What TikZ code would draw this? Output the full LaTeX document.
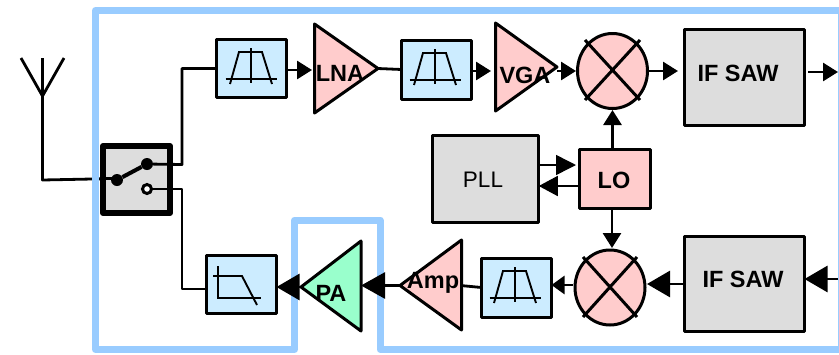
\documentclass[tikz,border=0pt]{standalone}
\usepackage{fontspec}
\setmainfont{Liberation Sans}
\usetikzlibrary{arrows.meta,calc}
\definecolor{edgeblue}{HTML}{99CCFF}
\definecolor{pinkfill}{HTML}{FFCCCC}
\definecolor{greenfill}{HTML}{99FFCC}
\definecolor{bluefill}{HTML}{CCECFF}
\definecolor{greyfill}{HTML}{DDDDDD}
\tikzset{
  x=1pt,y=-1pt,
  lab/.style={font=\fontsize{23.5}{23.5}\selectfont\bfseries,inner sep=0pt},
  box/.style={draw=black,line width=3pt,line join=round,inner sep=0pt,outer sep=0pt},
  filterbox/.style={box,fill=bluefill,minimum width=70pt,minimum height=59pt},
  graybox/.style={box,fill=greyfill},
  tri/.style={draw=black,line width=3pt,line join=round},
  mixer/.style={draw=black,line width=3pt},
  wire/.style={draw=black,line width=2.8pt,line join=round},
  thinwire/.style={draw=black,line width=1.5pt},
  small head/.style={wire,-{Triangle[length=15pt,width=18pt]}},
  big head/.style={wire,-{Triangle[length=23pt,width=26pt]}},
  mini/.style={line width=1.9pt,draw=black},
  pics/bandpass/.style={code={
    \draw[mini] (-25.5,10.5) -- (25.5,10.5);
    \draw[mini] (0,-20.5) -- (0,14.5);
    \draw[mini] (-21,15.5) -- (-12,-16.5) -- (11,-16.5) -- (21,15.5);
  }},
  pics/lowpass/.style={code={
    \draw[mini] (0,-23) -- (0,9);
    \draw[mini] (-5,-13) -- (24,-13) -- (39,16);
    \draw[mini] (-1,9) -- (43,9);
  }}
}
\begin{document}
\begin{tikzpicture}
\useasboundingbox (0,0) rectangle (839,354);
\fill[white] (0,0) rectangle (839,354);

% antenna and its feed, under the border
\coordinate (antTip) at (42.5,58);
\coordinate (antV) at (42.5,96);
\coordinate (antL) at (21,58);
\coordinate (antR) at (64,58);
\coordinate (antFoot) at (42.5,180);
\coordinate (swIn) at (117,178.5);
\draw[wire] (antL) -- (antV) -- (antR);
\draw[wire] (antTip) -- (antFoot) -- (swIn);

% border
\draw[edgeblue,line width=7pt,line join=round]
  (841,10.5) -- (95.5,10.5) -- (95.5,349.5) -- (294.5,349.5) -- (294.5,220)
  -- (380,220) -- (380,349.5) -- (841,349.5) -- cycle;

% switch
\node[draw=black,fill=greyfill,line width=6pt,line join=round,minimum width=67pt,minimum height=67pt,inner sep=0pt,outer sep=0pt] (sw) at (136.5,179.5) {};
\draw[wire] (100,178.5) -- (swIn);
\node[circle,fill=black,minimum size=12pt,inner sep=0pt] (c1) at (117,180) {};
\node[circle,fill=black,minimum size=12pt,inner sep=0pt] (c2) at (147,164) {};
\node[draw=black,fill=white,line width=3pt,circle,minimum size=9pt,inner sep=0pt] (c3) at (147,189) {};
\draw[black,line width=4pt] (c1) -- (c2);

% filters
\node[filterbox,minimum height=58pt] (f1) at (251.5,68.5) {};
\node[filterbox] (f2) at (436.5,69.5) {};
\node[filterbox] (f3) at (516.5,287.5) {};
\node[filterbox,minimum height=58pt] (f4) at (241.5,284.5) {};
\pic at (251,68.5) {bandpass};
\pic at (435,69.5) {bandpass};
\pic at (515,287.5) {bandpass};
\pic at (218,289) {lowpass};

% switch outputs
\coordinate (bendA) at (182,164.5);
\coordinate (bendB) at (182,189);
\draw[wire] (c2) -- (bendA) -- (bendA |- f1.west) -- (f1.west);
\draw[wire] (c3) -- (bendB) -- ($(bendB |- f4.west)+(0,4.5)$) -- ($(f4.west)+(0,4.5)$);

% amplifiers
\coordinate (lnaA) at (314.5,24); \coordinate (lnaB) at (314.5,113); \coordinate (lnaT) at (378,68.5);
\coordinate (vgaA) at (495.5,23); \coordinate (vgaB) at (495.5,111); \coordinate (vgaT) at (557,67);
\coordinate (ampA) at (461.5,240); \coordinate (ampB) at (461.5,330); \coordinate (ampT) at (400,285.5);
\coordinate (paA) at (361,241); \coordinate (paB) at (361,331); \coordinate (paT) at (301,287);
\filldraw[tri,fill=pinkfill] (lnaA) -- (lnaB) -- (lnaT) -- cycle;
\filldraw[tri,fill=pinkfill] (vgaA) -- (vgaB) -- (vgaT) -- cycle;
\filldraw[tri,fill=pinkfill] (ampA) -- (ampB) -- (ampT) -- cycle;
\filldraw[tri,fill=greenfill] (paA) -- (paB) -- (paT) -- cycle;

% mixers
\coordinate (mt) at (612.5,71);
\coordinate (mb) at (610,287.5);
\filldraw[mixer,fill=pinkfill] (mt) ellipse [x radius=35,y radius=37.5];
\filldraw[mixer,fill=pinkfill] (mb) ellipse [x radius=35,y radius=37.5];
\draw[mixer] (585,40) -- (640,100) (640,40) -- (585,100);
\draw[mixer] (583,257) -- (637,317) (637,257) -- (583,317);
\coordinate (mtE) at (649,71); \coordinate (mtW) at (576,71);
\coordinate (mtS) at (612.5,110);
\coordinate (mbE) at (647,285); \coordinate (mbW) at (573,285);
\coordinate (mbN) at (612,248);

% large blocks
\node[graybox,minimum width=120pt,minimum height=96pt] (saw1) at (744.5,77.5) {};
\node[graybox,minimum width=120pt,minimum height=95pt] (saw2) at (744.5,284) {};
\node[graybox,minimum width=106.5pt,minimum height=87pt] (pll) at (485.5,179) {};
\node[box,fill=pinkfill,minimum width=71pt,minimum height=59pt] (lo) at (614.5,178.5) {};

% labels
\node[lab] at (340,73) {LNA};
\node[lab] at (525,75) {VGA};
\node[lab] at (433,283) {Amp};
\node[lab] at (331,293) {PA};
\node[lab] at (738,73) {IF SAW};
\node[lab] at (743,279) {IF SAW};
\node[lab] at (614,180) {LO};
\node[font=\fontsize{22.5}{22.5}\selectfont,inner sep=0pt] at (483,180) {PLL};

% connectors
\coordinate (lnaIn) at (312,70);
\draw[small head] (lnaIn -| f1.east) -- (lnaIn);
\draw[wire] (lnaT) -- (f2.west);
\coordinate (vgaIn) at (491,71);
\draw[small head] (vgaIn -| f2.east) -- (vgaIn);
\draw[small head] (vgaT |- mtW) -- (mtW);
\coordinate (sawIn) at (678,71);
\draw[small head] (mtE) -- (sawIn);
\coordinate (outR) at (808,72);
\coordinate (outT) at (838,72);
\draw[small head] (outR) -- (outT);
\coordinate (loUp) at (612.5,148);
\draw[small head] (loUp) -- (mtS);
\coordinate (loDn) at (612,207);
\draw[small head] (loDn) -- (mbN);
\coordinate (a1) at (576,165);
\draw[thinwire,-{Triangle[length=20pt,width=20pt]}] (a1 -| pll.east) -- (a1);
\coordinate (a2) at (578,186);
\draw[thinwire,-{Triangle[length=19pt,width=20pt]}] (a2) -- (a2 -| pll.east);
\coordinate (inR) at (838,279);
\draw[big head] (inR) -- (inR -| saw2.east);
\coordinate (s2w) at (684,284);
\draw[big head] (s2w) -- (mbE |- s2w);
\draw[wire,-{Triangle[length=13pt,width=18pt]}] (mbW) -- (mbW -| f3.east);
\draw[wire] (f3.west) -- ($(f3.west)+(-21,-2)$);
\draw[big head,-{Triangle[length=24pt,width=26pt]}] (ampT) -- (paA |- ampT);
\draw[big head] (paT) -- (paT -| f4.east);
\end{tikzpicture}
\end{document}
